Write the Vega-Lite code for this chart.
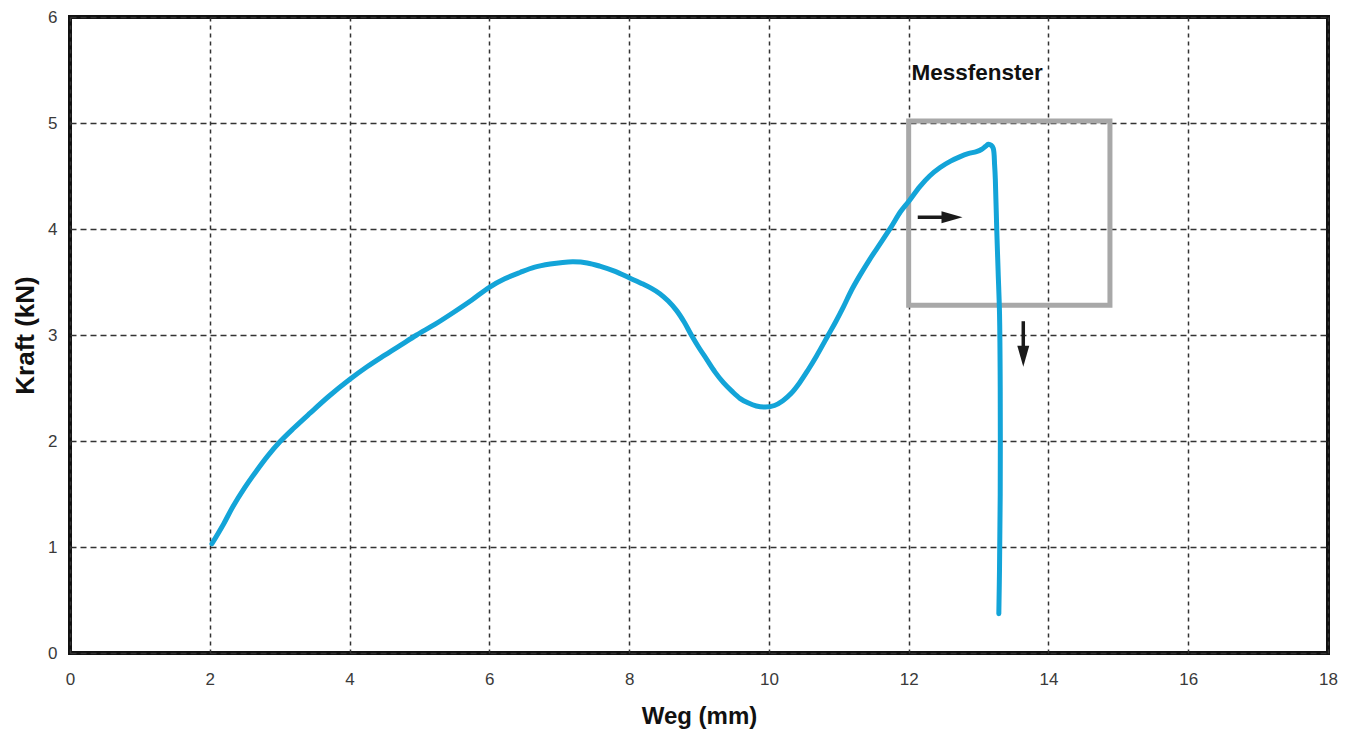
{
  "$schema": "https://vega.github.io/schema/vega-lite/v6.json",
  "width": 1258,
  "height": 636,
  "autosize": {"type": "none"},
  "padding": {"left": 70, "top": 17, "right": 24, "bottom": 78},
  "background": "white",
  "config": {
    "view": {"stroke": "#111111", "strokeWidth": 4},
    "axis": {
      "domain": false,
      "ticks": false,
      "labelFlush": false,
      "labelFont": "Liberation Sans",
      "labelFontSize": 17,
      "labelColor": "#3a3a3a",
      "titleFont": "Liberation Sans",
      "titleFontWeight": "bold",
      "titleColor": "#111111",
      "gridColor": "#333333",
      "gridWidth": 1.5,
      "gridOpacity": 1
    }
  },
  "datasets": {
    "curve": [
      {"weg": 2.03, "kraft": 1.03}, {"weg": 2.2, "kraft": 1.22}, {"weg": 2.33, "kraft": 1.38},
      {"weg": 2.5, "kraft": 1.56}, {"weg": 2.67, "kraft": 1.72}, {"weg": 2.83, "kraft": 1.86},
      {"weg": 3.0, "kraft": 1.99}, {"weg": 3.2, "kraft": 2.12}, {"weg": 3.43, "kraft": 2.26},
      {"weg": 3.7, "kraft": 2.42}, {"weg": 4.0, "kraft": 2.58}, {"weg": 4.25, "kraft": 2.7},
      {"weg": 4.48, "kraft": 2.8}, {"weg": 4.72, "kraft": 2.9}, {"weg": 4.96, "kraft": 3.0},
      {"weg": 5.22, "kraft": 3.1}, {"weg": 5.48, "kraft": 3.21}, {"weg": 5.75, "kraft": 3.33},
      {"weg": 6.0, "kraft": 3.45}, {"weg": 6.22, "kraft": 3.53}, {"weg": 6.44, "kraft": 3.59},
      {"weg": 6.65, "kraft": 3.64}, {"weg": 6.87, "kraft": 3.67}, {"weg": 7.05, "kraft": 3.685},
      {"weg": 7.2, "kraft": 3.69}, {"weg": 7.4, "kraft": 3.68}, {"weg": 7.58, "kraft": 3.65},
      {"weg": 7.8, "kraft": 3.6}, {"weg": 8.0, "kraft": 3.54}, {"weg": 8.2, "kraft": 3.48},
      {"weg": 8.32, "kraft": 3.44}, {"weg": 8.44, "kraft": 3.39}, {"weg": 8.56, "kraft": 3.32},
      {"weg": 8.68, "kraft": 3.23}, {"weg": 8.79, "kraft": 3.12}, {"weg": 8.89, "kraft": 3.0},
      {"weg": 9.0, "kraft": 2.88}, {"weg": 9.11, "kraft": 2.77}, {"weg": 9.23, "kraft": 2.65},
      {"weg": 9.35, "kraft": 2.55}, {"weg": 9.47, "kraft": 2.47}, {"weg": 9.59, "kraft": 2.4},
      {"weg": 9.7, "kraft": 2.36}, {"weg": 9.82, "kraft": 2.33}, {"weg": 9.95, "kraft": 2.32},
      {"weg": 10.08, "kraft": 2.335}, {"weg": 10.2, "kraft": 2.38}, {"weg": 10.32, "kraft": 2.45},
      {"weg": 10.44, "kraft": 2.55}, {"weg": 10.56, "kraft": 2.67}, {"weg": 10.68, "kraft": 2.8},
      {"weg": 10.85, "kraft": 3.0}, {"weg": 10.96, "kraft": 3.13}, {"weg": 11.07, "kraft": 3.27},
      {"weg": 11.18, "kraft": 3.42}, {"weg": 11.3, "kraft": 3.56}, {"weg": 11.43, "kraft": 3.7},
      {"weg": 11.55, "kraft": 3.82}, {"weg": 11.75, "kraft": 4.02}, {"weg": 11.88, "kraft": 4.16},
      {"weg": 12.0, "kraft": 4.26}, {"weg": 12.16, "kraft": 4.4}, {"weg": 12.3, "kraft": 4.5},
      {"weg": 12.45, "kraft": 4.58}, {"weg": 12.6, "kraft": 4.64}, {"weg": 12.73, "kraft": 4.68},
      {"weg": 12.85, "kraft": 4.71}, {"weg": 12.97, "kraft": 4.73}, {"weg": 13.04, "kraft": 4.75},
      {"weg": 13.1, "kraft": 4.78}, {"weg": 13.14, "kraft": 4.8}, {"weg": 13.18, "kraft": 4.79},
      {"weg": 13.21, "kraft": 4.76}, {"weg": 13.23, "kraft": 4.6}, {"weg": 13.24, "kraft": 4.47},
      {"weg": 13.26, "kraft": 4.0}, {"weg": 13.28, "kraft": 3.6}, {"weg": 13.3, "kraft": 3.2},
      {"weg": 13.31, "kraft": 2.5}, {"weg": 13.31, "kraft": 1.5}, {"weg": 13.3, "kraft": 0.8},
      {"weg": 13.29, "kraft": 0.37}
    ],
    "box": [{"x1": 12.0, "x2": 14.88, "y1": 3.28, "y2": 5.02}],
    "label": [{"x": 12.04, "y": 5.41, "text": "Messfenster"}],
    "arrowsH": [{"x1": 12.13, "x2": 12.6, "y": 4.11, "tip": 12.77}],
    "arrowsV": [{"x": 13.64, "y1": 3.13, "y2": 2.85, "tip": 2.7}]
  },
  "layer": [
    {
      "data": {"name": "box"},
      "mark": {"type": "rect", "filled": false, "stroke": "#a8a8a8", "strokeWidth": 5},
      "encoding": {
        "x": {"field": "x1", "type": "quantitative", "scale": {"domain": [0, 18], "nice": false},
          "axis": {"values": [0, 2, 4, 6, 8, 10, 12, 14, 16, 18], "format": "d", "title": "Weg (mm)", "titleFontSize": 24,
            "labelPadding": 18, "titlePadding": 17, "gridDash": [4, 4]}},
        "x2": {"field": "x2"},
        "y": {"field": "y1", "type": "quantitative", "scale": {"domain": [0, 6], "nice": false},
          "axis": {"values": [0, 1, 2, 3, 4, 5, 6], "format": "d", "title": "Kraft (kN)", "titleFontSize": 26,
            "labelPadding": 13, "titlePadding": 9, "gridDash": [6, 4]}},
        "y2": {"field": "y2"}
      }
    },
    {
      "data": {"name": "curve"},
      "mark": {"type": "line", "color": "#13a4d8", "strokeWidth": 5, "strokeCap": "round", "strokeJoin": "round", "interpolate": "catmull-rom"},
      "encoding": {
        "x": {"field": "weg", "type": "quantitative"},
        "y": {"field": "kraft", "type": "quantitative"},
        "order": {"value": null}
      }
    },
    {
      "data": {"name": "arrowsH"},
      "mark": {"type": "rule", "color": "#1a1a1a", "strokeWidth": 3.5},
      "encoding": {
        "x": {"field": "x1", "type": "quantitative"},
        "x2": {"field": "x2"},
        "y": {"field": "y", "type": "quantitative"}
      }
    },
    {
      "data": {"name": "arrowsH"},
      "mark": {"type": "point", "shape": "M0,0L-2,-0.57L-2,0.57Z", "filled": true, "color": "#1a1a1a", "size": 441, "opacity": 1},
      "encoding": {
        "x": {"field": "tip", "type": "quantitative"},
        "y": {"field": "y", "type": "quantitative"}
      }
    },
    {
      "data": {"name": "arrowsV"},
      "mark": {"type": "rule", "color": "#1a1a1a", "strokeWidth": 3.5},
      "encoding": {
        "x": {"field": "x", "type": "quantitative"},
        "y": {"field": "y1", "type": "quantitative"},
        "y2": {"field": "y2"}
      }
    },
    {
      "data": {"name": "arrowsV"},
      "mark": {"type": "point", "shape": "M0,0L-0.57,-2L0.57,-2Z", "filled": true, "color": "#1a1a1a", "size": 441, "opacity": 1},
      "encoding": {
        "x": {"field": "x", "type": "quantitative"},
        "y": {"field": "tip", "type": "quantitative"}
      }
    },
    {
      "data": {"name": "label"},
      "mark": {"type": "text", "font": "Liberation Sans", "fontWeight": "bold", "fontSize": 22.5, "align": "left", "baseline": "alphabetic", "color": "#111111"},
      "encoding": {
        "x": {"field": "x", "type": "quantitative"},
        "y": {"field": "y", "type": "quantitative"},
        "text": {"field": "text"}
      }
    }
  ]
}
